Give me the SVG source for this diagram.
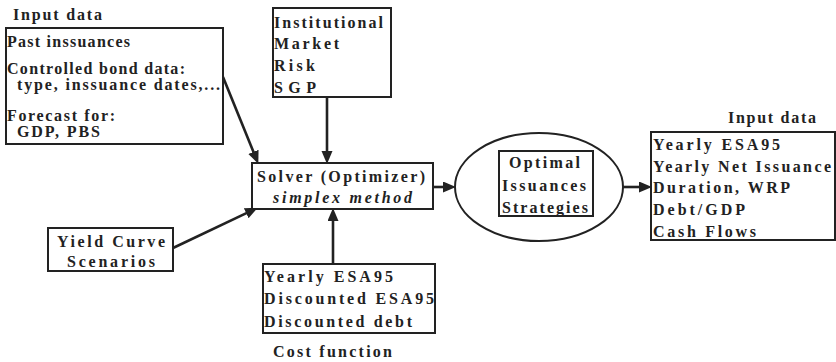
<svg xmlns="http://www.w3.org/2000/svg" width="836" height="362" viewBox="0 0 836 362">
<style>
  .box { fill: #fff; stroke: #222; stroke-width: 2; }
  .t { font-weight: bold; font-size: 16px; fill: #222; }
  .it { font-style: italic; }
  .conn { stroke: #222; stroke-width: 2.6; fill: none; marker-end: url(#ah); }
</style>
<defs>
  <marker id="ah" markerUnits="userSpaceOnUse" markerWidth="14" markerHeight="12" refX="2" refY="5.5" orient="auto">
    <path d="M0,0 L13,5.5 L0,11 z" fill="#222"/>
  </marker>
</defs>
<rect width="836" height="362" fill="#fff"/>

<g id="connectors">
  <line class="conn" x1="223" y1="77" x2="254.2" y2="153.7"/>
  <line class="conn" x1="327" y1="97" x2="327" y2="153"/>
  <line class="conn" x1="173" y1="248" x2="248" y2="212.3"/>
  <line class="conn" x1="333" y1="264" x2="333" y2="219"/>
  <line class="conn" x1="433" y1="187" x2="445" y2="187"/>
  <line class="conn" x1="623" y1="187" x2="641" y2="187"/>
</g>

<g font-family="Liberation Serif, DejaVu Serif, serif">
<g id="input-data">
  <text class="t" x="13" y="20" textLength="89" lengthAdjust="spacing">Input data</text>
  <rect class="box" x="6" y="28" width="217" height="116"/>
  <text class="t" x="7" y="47" textLength="123" lengthAdjust="spacing">Past inssuances</text>
  <text class="t" x="7" y="74" textLength="178" lengthAdjust="spacing">Controlled bond data:</text>
  <text class="t" x="17" y="90" textLength="203" lengthAdjust="spacing">type, inssuance dates,...</text>
  <text class="t" x="7" y="121" textLength="108" lengthAdjust="spacing">Forecast for:</text>
  <text class="t" x="17" y="137" textLength="83" lengthAdjust="spacing">GDP, PBS</text>
</g>

<g id="constraints">
  <rect class="box" x="273" y="8" width="118" height="89"/>
  <text class="t" x="274" y="28" textLength="109" lengthAdjust="spacing">Institutional</text>
  <text class="t" x="274" y="49" textLength="65" lengthAdjust="spacing">Market</text>
  <text class="t" x="274" y="71" textLength="41" lengthAdjust="spacing">Risk</text>
  <text class="t" x="274" y="93" textLength="42" lengthAdjust="spacing">SGP</text>
</g>

<g id="solver">
  <rect class="box" x="252" y="163" width="181" height="46"/>
  <text class="t" x="257" y="182" textLength="168" lengthAdjust="spacing">Solver (Optimizer)</text>
  <text class="t it" x="273" y="203" textLength="139" lengthAdjust="spacing">simplex method</text>
</g>

<g id="yield-curve">
  <rect class="box" x="48" y="228" width="125" height="43"/>
  <text class="t" x="57" y="247" textLength="108" lengthAdjust="spacing">Yield Curve</text>
  <text class="t" x="67" y="267" textLength="88" lengthAdjust="spacing">Scenarios</text>
</g>

<g id="cost-function">
  <rect class="box" x="263" y="264" width="172" height="69"/>
  <text class="t" x="264" y="282" textLength="129" lengthAdjust="spacing">Yearly ESA95</text>
  <text class="t" x="264" y="304" textLength="170" lengthAdjust="spacing">Discounted ESA95</text>
  <text class="t" x="264" y="327" textLength="148" lengthAdjust="spacing">Discounted debt</text>
  <text class="t" x="273" y="357" textLength="119" lengthAdjust="spacing">Cost function</text>
</g>

<g id="optimal">
  <ellipse cx="539" cy="187" rx="84" ry="54" fill="#fff" stroke="#222" stroke-width="2"/>
  <rect class="box" x="499" y="151" width="94" height="65"/>
  <text class="t" x="509" y="168" textLength="71" lengthAdjust="spacing">Optimal</text>
  <text class="t" x="502" y="191" textLength="84" lengthAdjust="spacing">Issuances</text>
  <text class="t" x="502" y="213" textLength="86" lengthAdjust="spacing">Strategies</text>
</g>

<g id="output-data">
  <text class="t" x="728" y="123" textLength="88" lengthAdjust="spacing">Input data</text>
  <rect class="box" x="651" y="132" width="184" height="108"/>
  <text class="t" x="653" y="150" textLength="127" lengthAdjust="spacing">Yearly ESA95</text>
  <text class="t" x="653" y="172" textLength="178" lengthAdjust="spacing">Yearly Net Issuance</text>
  <text class="t" x="653" y="193" textLength="137" lengthAdjust="spacing">Duration, WRP</text>
  <text class="t" x="653" y="215" textLength="92" lengthAdjust="spacing">Debt/GDP</text>
  <text class="t" x="653" y="237" textLength="103" lengthAdjust="spacing">Cash Flows</text>
</g>
</g>
</svg>
